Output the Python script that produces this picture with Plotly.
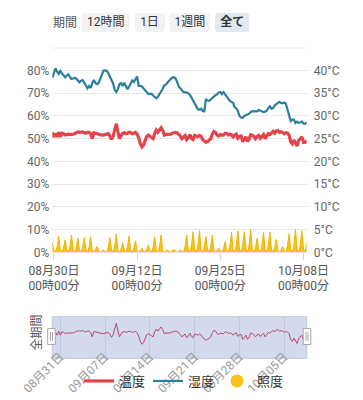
import pandas as pd
import plotly.graph_objects as go

# ---- data (6-hour samples, 2023-08-29 18:00 .. 2023-10-08 12:00) ----
start_time = "2023-08-29 18:00"
n_points = 160

humidity = [
    76.8, 79.0, 81.0, 79.5, 78.5, 79.8, 79.0, 77.8, 77.0, 77.8,
    78.3, 77.2, 76.3, 76.5, 76.8, 76.4, 75.5, 74.8, 75.5, 75.8,
    74.6, 73.2, 72.1, 73.2, 72.4, 74.5, 75.8, 74.4, 74.0, 74.6,
    76.5, 79.0, 80.0, 80.1, 79.9, 78.8, 77.2, 76.0, 74.3, 71.5,
    70.6, 71.9, 74.0, 74.5, 73.2, 74.6, 73.2, 71.8, 73.0, 74.6,
    75.6, 75.0, 76.0, 77.4, 73.2, 73.3, 73.0, 72.2, 71.2, 70.2,
    69.7, 69.6, 69.8, 69.0, 68.3, 67.8, 68.4, 69.5, 70.4, 72.0,
    73.5, 73.8, 74.7, 75.5, 76.3, 76.9, 77.1, 76.6, 75.0, 73.0,
    72.2, 71.3, 70.5, 70.5, 70.4, 70.0, 69.4, 68.0, 66.8, 65.2,
    63.6, 62.9, 62.8, 63.2, 62.2, 62.0, 67.5, 66.8, 66.7, 67.4,
    68.0, 68.6, 69.2, 69.5, 70.4, 70.6, 69.6, 70.5, 69.5, 68.2,
    67.4, 66.6, 66.2, 65.8, 63.8, 63.4, 62.2, 60.0, 59.3, 59.2,
    60.0, 60.5, 60.6, 61.0, 61.8, 62.1, 62.2, 62.0, 62.0, 62.6,
    62.4, 61.9, 61.7, 61.9, 62.3, 63.5, 64.3, 63.2, 63.6, 64.6,
    65.4, 65.8, 66.2, 65.7, 65.7, 65.9, 65.3, 62.5, 59.8, 57.8,
    58.4, 58.4, 56.9, 57.5, 57.0, 57.1, 57.6, 56.6, 56.5, 57.3,
]

temperature = [
    26.4, 25.4, 26.1, 25.4, 26.4, 25.4, 26.2, 26.1, 25.8, 25.9,
    26.0, 25.9, 25.9, 26.0, 26.1, 26.4, 26.5, 26.4, 26.4, 26.5,
    26.3, 26.2, 26.4, 26.4, 26.1, 25.0, 26.3, 26.2, 26.0, 25.9,
    25.9, 25.8, 25.8, 25.9, 25.9, 26.1, 25.6, 24.9, 25.5, 27.2,
    28.3, 26.5, 25.0, 25.7, 26.2, 26.3, 26.1, 26.2, 26.4, 26.3,
    26.1, 26.2, 26.4, 26.0, 25.2, 23.9, 23.2, 23.6, 24.8, 25.5,
    25.8, 25.6, 25.4, 25.0, 26.2, 26.9, 26.4, 26.9, 27.4, 26.8,
    25.8, 25.9, 25.9, 25.9, 26.0, 26.2, 26.4, 26.4, 26.3, 26.0,
    25.6, 25.0, 25.4, 25.7, 24.8, 25.2, 25.9, 25.1, 24.8, 25.7,
    25.6, 25.4, 25.7, 25.5, 24.8, 24.5, 24.2, 24.4, 24.7, 25.0,
    26.0, 26.6, 26.4, 25.8, 25.6, 25.9, 25.8, 25.8, 26.2, 26.2,
    25.8, 26.0, 25.8, 25.4, 25.8, 26.0, 25.1, 25.5, 25.6, 24.4,
    24.8, 25.4, 24.4, 24.9, 25.9, 25.8, 25.5, 25.0, 25.5, 25.7,
    25.1, 25.4, 25.9, 25.0, 25.5, 26.1, 25.9, 26.2, 26.6, 26.2,
    26.7, 26.8, 26.4, 26.5, 26.4, 26.1, 26.3, 26.2, 25.8, 24.3,
    23.9, 24.7, 24.0, 23.4, 24.6, 25.1, 25.4, 24.2, 24.2, 24.6,
]

illuminance = [
    4.2,
    0.8, 0, 2.5, 7.2,   1.2, 0, 2.0, 5.4,   1.0, 0, 2.6, 7.6,   1.2, 0, 2.2, 6.2,
    1.0, 0, 2.3, 6.5,   1.1, 0, 2.4, 6.9,   0.8, 0, 1.0, 2.5,   0.5, 0, 0.6, 1.0,
    0.4, 0, 2.3, 6.5,   1.2, 0, 2.8, 8.1,   1.0, 0, 1.5, 4.2,   0.9, 0, 2.5, 7.2,
    1.0, 0, 1.8, 5.0,   0.7, 0, 0.7, 1.8,   0.5, 0, 1.2, 3.2,   0.7, 0, 2.4, 6.9,
    1.2, 0, 2.6, 7.6,   0.8, 0, 0.5, 1.0,   0.4, 0, 0.6, 1.3,   0.4, 0, 0.5, 1.0,
    0.4, 0, 2.6, 7.6,   1.2, 0, 3.1, 9.1,   1.4, 0, 3.2, 9.5,   1.3, 0, 2.4, 6.9,
    1.2, 0, 2.6, 7.6,   1.0, 0, 0.7, 1.8,   0.5, 0, 1.6, 4.7,   0.9, 0, 3.0, 8.7,
    1.3, 0, 3.2, 9.4,   1.4, 0, 3.1, 9.1,   1.4, 0, 3.4, 10.1,  1.5, 0, 2.1, 6.2,
    1.1, 0, 3.0, 8.8,   1.3, 0, 3.0, 8.8,   1.3, 0, 2.0, 5.7,   0.9, 0, 0.9, 2.5,
    0.6, 0, 2.8, 8.1,   1.2, 0, 3.4, 10.1,  1.5, 0, 3.2, 9.5,
    1.4, 0, 4.2,
]

left_tick_step = 10     # %
right_tick_step = 5     # °C
series_names = ["温度", "湿度", "照度"]
range_buttons = ["12時間", "1日", "1週間", "全て"]

times = pd.date_range(start_time, periods=n_points, freq="6h")

# ---- styling ----
W, H = 363, 400
FONT = 'Roboto, "Noto Sans CJK JP", sans-serif'
RED = "#e2444a"
BLUE = "#2b7f9d"
YELLOW = "#f8c11c"

def px_x(p):
    return p / W

def px_y(p):
    return (H - p) / H

x_dom = [px_x(52.3), px_x(306.7)]

fig = go.Figure()

fig.add_trace(go.Scatter(
    x=times, y=illuminance, yaxis="y3", mode="lines",
    line=dict(color="#f2b400", width=1), fill="tozeroy", fillcolor=YELLOW,
    name=series_names[2], legendgroup="lux", showlegend=False, hoverinfo="skip",
))
fig.add_trace(go.Scatter(
    x=times, y=humidity, yaxis="y", mode="lines",
    line=dict(color=BLUE, width=2.2), name=series_names[1], legendrank=2,
))
fig.add_trace(go.Scatter(
    x=times, y=temperature, yaxis="y2", mode="lines",
    line=dict(color=RED, width=3.2), name=series_names[0], legendrank=1,
))
fig.add_trace(go.Scatter(
    x=[None], y=[None], mode="markers", yaxis="y3",
    marker=dict(color=YELLOW, size=13, symbol="circle"),
    name=series_names[2], legendgroup="lux", legendrank=3,
))
# overview (slider) line
fig.add_trace(go.Scatter(
    x=times, y=temperature, xaxis="x2", yaxis="y4", mode="lines",
    line=dict(color="#b8476a", width=1), showlegend=False, hoverinfo="skip",
))

fig.update_layout(
    width=W, height=H,
    margin=dict(l=0, r=0, t=0, b=0, autoexpand=False),
    paper_bgcolor="white", plot_bgcolor="white",
    font=dict(family=FONT, size=12, color="#555"),
    showlegend=True,
    legend=dict(
        orientation="h", x=px_x(79), xanchor="left", y=px_y(381), yanchor="middle",
        font=dict(size=13, color="#333"), entrywidth=24, entrywidthmode="pixels",
        bgcolor="rgba(0,0,0,0)", itemclick="toggle", tracegroupgap=0,
    ),
    xaxis=dict(
        domain=x_dom, anchor="y", type="date", autorange=True,
        tick0="2023-08-30", dtick=13 * 86400000,
        tickformat="%m月%d日<br>%H時%M分",
        ticks="outside", ticklen=7, tickcolor="#d6d6d6",
        showgrid=False, showline=True, linecolor="#e2e2e2",
        tickfont=dict(size=12, color="#555"), automargin=False,
        rangeselector=dict(
            buttons=[
                dict(count=12, label=range_buttons[0], step="hour", stepmode="backward"),
                dict(count=1, label=range_buttons[1], step="day", stepmode="backward"),
                dict(count=7, label=range_buttons[2], step="day", stepmode="backward"),
                dict(label="<b>" + range_buttons[3] + "</b>", step="all"),
            ],
            x=px_x(82), xanchor="left", y=px_y(13.3), yanchor="top",
            bgcolor="#f3f3f4", activecolor="#e3e9f3", borderwidth=0,
            font=dict(size=12, color="#333", family=FONT),
        ),
    ),
    yaxis=dict(
        domain=[px_y(252.3), px_y(66)], anchor="x", range=[0, 82],
        tickmode="linear", tick0=0, dtick=left_tick_step, ticksuffix="%",
        showgrid=True, gridcolor="#e6e6e6",
        zeroline=False, showline=False, tickfont=dict(size=12, color="#666"),
        automargin=False, ticklabelstandoff=2,
    ),
    yaxis2=dict(
        overlaying="y", anchor="x", side="right", range=[0, 41],
        tickmode="linear", tick0=0, dtick=right_tick_step, ticksuffix="°C",
        showgrid=False, zeroline=False,
        showline=False, tickfont=dict(size=12, color="#666"), automargin=False,
        ticklabelstandoff=6,
    ),
    yaxis3=dict(overlaying="y", anchor="x", range=[0, 82], visible=False),
    xaxis2=dict(
        domain=x_dom, anchor="y4", type="date", autorange=True,
        tick0="2023-08-31", dtick=7 * 86400000, tickformat="%m月%d日",
        tickangle=-45, showgrid=True, gridcolor="#c2c8da", gridwidth=1,
        showline=False, zeroline=False, ticks="",
        tickfont=dict(size=12, color="#999"), automargin=False,
        ticklabelstandoff=-12,
    ),
    yaxis4=dict(
        domain=[px_y(358.3), px_y(316.7)], anchor="x2", range=[19.8, 29.9],
        visible=False, showgrid=False,
    ),
    shapes=[
        dict(type="line", xref="paper", yref="paper",
             x0=px_x(52), x1=px_x(307), y0=px_y(48), y1=px_y(48),
             line=dict(color="#ececec", width=1)),
        dict(type="rect", xref="x2 domain", yref="y4 domain",
             x0=0, x1=1, y0=0, y1=1, layer="below",
             fillcolor="#d3daee", line=dict(color="#c3c8d6", width=1)),
        dict(type="rect", xref="paper", yref="paper",
             x0=px_x(47.7), x1=px_x(55.3), y0=px_y(344.5), y1=px_y(328.5),
             fillcolor="white", line=dict(color="#a9a9a9", width=1), layer="above"),
        dict(type="rect", xref="paper", yref="paper",
             x0=px_x(303.2), x1=px_x(310.8), y0=px_y(344.5), y1=px_y(328.5),
             fillcolor="white", line=dict(color="#a9a9a9", width=1), layer="above"),
        dict(type="line", xref="paper", yref="paper",
             x0=px_x(50.5), x1=px_x(50.5), y0=px_y(341), y1=px_y(332),
             line=dict(color="#aaaaaa", width=1)),
        dict(type="line", xref="paper", yref="paper",
             x0=px_x(52.5), x1=px_x(52.5), y0=px_y(341), y1=px_y(332),
             line=dict(color="#aaaaaa", width=1)),
        dict(type="line", xref="paper", yref="paper",
             x0=px_x(306), x1=px_x(306), y0=px_y(341), y1=px_y(332),
             line=dict(color="#aaaaaa", width=1)),
        dict(type="line", xref="paper", yref="paper",
             x0=px_x(308), x1=px_x(308), y0=px_y(341), y1=px_y(332),
             line=dict(color="#aaaaaa", width=1)),
    ],
    annotations=[
        dict(text="期間", xref="paper", yref="paper", x=px_x(51), y=px_y(23.5),
             xanchor="left", yanchor="middle", showarrow=False,
             font=dict(size=12, color="#555")),
        dict(text="全期間", xref="paper", yref="paper", x=px_x(36.5), y=px_y(333),
             xanchor="center", yanchor="middle", showarrow=False, textangle=-90,
             font=dict(size=12, color="#555")),
    ],
)

fig.write_html(
    "out.html",
    config={"displayModeBar": False},
    post_script="document.body.style.margin='0';document.body.style.overflow='hidden';",
)
